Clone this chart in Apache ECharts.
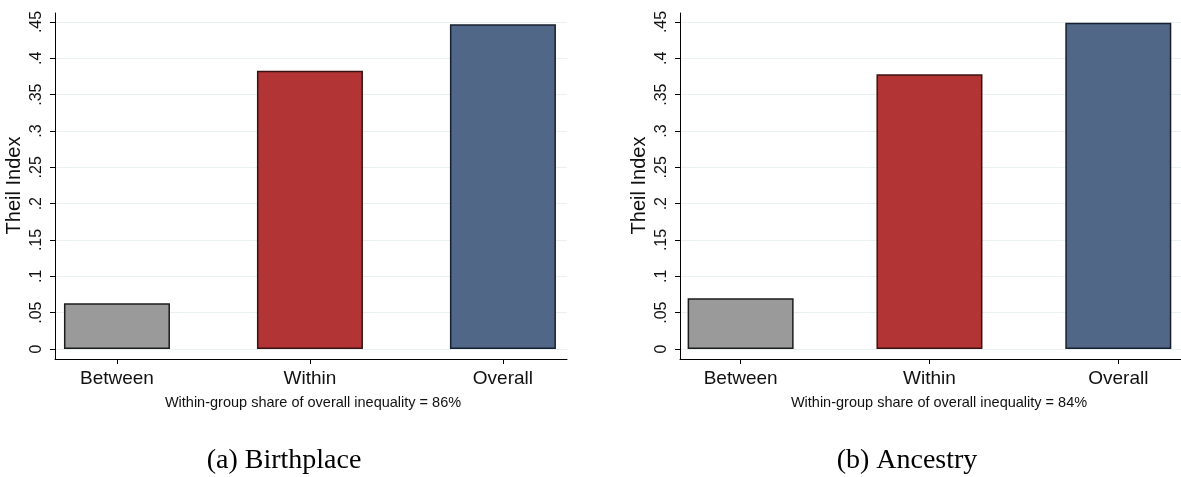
<!DOCTYPE html>
<html>
<head>
<meta charset="utf-8">
<script src="https://cdn.jsdelivr.net/npm/echarts@6/dist/echarts.min.js"></script>
<style>
  html, body { margin: 0; padding: 0; background: #fff; }
  #chart { width: 1181px; height: 477px; }
</style>
</head>
<body>
<div id="chart"></div>
<script>
// data
const categories = ['Between', 'Within', 'Overall'];
const birthplaceTheil = [0.063, 0.383, 0.447];
const ancestryTheil = [0.070, 0.378, 0.449];
const withinShares = ['86%', '84%'];
const panelCaptions = ['(a) Birthplace', '(b) Ancestry'];

const barColors = ['#9a9a9a', '#b23434', '#516787'];
const barBorders = ['#1c1c1c', '#3a1212', '#17202e'];

const SANS = 'Liberation Sans, Arial, sans-serif';
const SERIF = 'Liberation Serif, Times New Roman, serif';

// x range in category units so the bars sit as in the Stata plot
const xMin = 0.679, xMax = 3.332;

function fmtTick(v) {
	const r = Math.round(v * 100) / 100;
	if (r === 0) return '0';
	return String(r).replace(/^0\./, '.');
}

const chart = echarts.init(document.getElementById('chart'));

const panels = [
	{ left: 55, values: birthplaceTheil, noteX: 313, capX: 284 },
	{ left: 680, values: ancestryTheil, noteX: 939, capX: 907 }
];

const grid = [], xAxis = [], yAxis = [], series = [], graphic = [];

panels.forEach((p, i) => {
	/*数据区*/
	grid.push({ left: p.left, top: 22, width: 512, height: 327 });
	/*外框轴线*/
	grid.push({ left: p.left, top: 13, width: 512, height: 346 });
	const dg = i * 2, fg = i * 2 + 1;

	xAxis.push({
		gridIndex: dg, type: 'value', min: xMin, max: xMax, show: false
	});
	xAxis.push({
		gridIndex: fg, type: 'value', min: xMin, max: xMax,
		splitLine: { show: false },
		axisLine: { show: true, onZero: false, lineStyle: { color: '#000', width: 1 } },
		axisTick: { show: true, length: 5, lineStyle: { color: '#000' }, customValues: [1, 2, 3] },
		axisLabel: {
			customValues: [1, 2, 3], margin: 10,
			color: '#111', fontFamily: SANS, fontSize: 19,
			formatter: v => categories[Math.round(v) - 1]
		}
	});

	yAxis.push({
		gridIndex: dg, type: 'value', min: 0, max: 0.45, interval: 0.05,
		name: 'Theil Index', nameLocation: 'middle', nameRotate: 90, nameGap: 31,
		nameTextStyle: { color: '#111', fontFamily: SANS, fontSize: 20 },
		axisLine: { show: false },
		axisTick: { show: true, length: 5, lineStyle: { color: '#000' } },
		axisLabel: {
			rotate: 90, margin: 10, color: '#111', fontFamily: SANS, fontSize: 16,
			formatter: fmtTick
		},
		splitLine: { show: true, lineStyle: { color: '#e8f0f2', width: 1 } }
	});
	yAxis.push({
		gridIndex: fg, type: 'value', min: 0, max: 1,
		axisLine: { show: true, lineStyle: { color: '#000', width: 1 } },
		axisTick: { show: false }, axisLabel: { show: false }, splitLine: { show: false }
	});

	series.push({
		type: 'bar',
		xAxisIndex: dg, yAxisIndex: dg,
		barWidth: 106,
		data: p.values.map((v, k) => ({
			value: [k + 1, v],
			itemStyle: { color: barColors[k], borderColor: barBorders[k], borderWidth: 1.5 }
		}))
	});

	graphic.push({
		type: 'text', x: p.noteX, y: 403,
		style: {
			text: 'Within-group share of overall inequality = ' + withinShares[i],
			fill: '#111', font: '14.5px ' + SANS, align: 'center', verticalAlign: 'middle'
		}
	});
	graphic.push({
		type: 'text', x: p.capX, y: 461,
		style: {
			text: panelCaptions[i],
			fill: '#000', font: '28px ' + SERIF, align: 'center', verticalAlign: 'middle'
		}
	});
});

chart.setOption({
	animation: false,
	backgroundColor: '#fff',
	grid: grid,
	xAxis: xAxis,
	yAxis: yAxis,
	series: series,
	graphic: graphic
});
</script>
</body>
</html>
